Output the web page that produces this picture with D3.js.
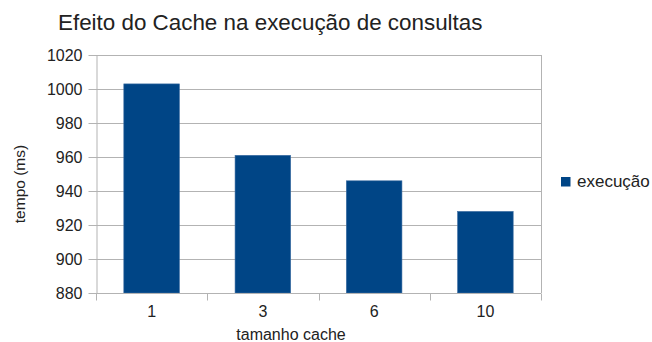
<!DOCTYPE html>
<html><head><meta charset="utf-8">
<script src="https://cdn.jsdelivr.net/npm/d3@7/dist/d3.min.js"></script>
<style>body{margin:0;background:#fff}svg{display:block}text{font-family:"Liberation Sans",Arial,sans-serif;fill:#222}</style>
</head><body>
<script>
const categories = ["1","3","6","10"];
const values = [1003, 961, 946, 928];
const yTicks = [880,900,920,940,960,980,1000,1020];
const seriesName = "execução";
const title = "Efeito do Cache na execução de consultas";
const xTitle = "tamanho cache";
const yTitle = "tempo (ms)";

const W = 652, H = 342;
const m = {left:96, right:111, top:55, bottom:49};
const svg = d3.select("body").append("svg").attr("width", W).attr("height", H);
const x = d3.scaleBand().domain(categories).range([m.left, W - m.right]).paddingInner(0.5).paddingOuter(0.25);
const xb = d3.scaleBand().domain(categories).range([m.left, W - m.right]);
const y = d3.scaleLinear().domain([880, 1020]).range([H - m.bottom, m.top]);
const font = "Liberation Sans, Arial, sans-serif";

// gridlines
svg.append("g").selectAll("line").data(yTicks).join("line")
  .attr("x1", m.left).attr("x2", W - m.right)
  .attr("y1", d => Math.round(y(d)) + 0.5).attr("y2", d => Math.round(y(d)) + 0.5)
  .attr("stroke", "#b3b3b3").attr("stroke-width", 1);
// right border
svg.append("line").attr("x1", W - m.right + 0.5).attr("x2", W - m.right + 0.5)
  .attr("y1", m.top).attr("y2", H - m.bottom).attr("stroke", "#b3b3b3");

// bars
svg.append("g").selectAll("rect").data(values).join("rect")
  .attr("x", (d, i) => x(categories[i]))
  .attr("width", x.bandwidth())
  .attr("y", d => y(d))
  .attr("height", d => y(880) - y(d))
  .attr("fill", "#004586").attr("stroke", "#3f6fa3").attr("stroke-width", 0.6);

// y axis
const ya = svg.append("g").attr("transform", `translate(${m.left + 0.5},0)`)
  .call(d3.axisLeft(y).tickValues(yTicks).tickFormat(d3.format("d")).tickSize(8).tickSizeOuter(0).tickPadding(6));
ya.select(".domain").attr("stroke", "#b3b3b3");
ya.selectAll(".tick line").attr("stroke", "#b3b3b3");
ya.selectAll("text").attr("font-size", 16).attr("fill", "#222").attr("font-family", font);
ya.selectAll(".tick").attr("transform", d => `translate(0,${Math.round(y(d)) + 0.5})`);

// x axis
const xa = svg.append("g").attr("transform", `translate(0,${H - m.bottom + 0.5})`)
  .call(d3.axisBottom(x).tickSize(0).tickPadding(12));
xa.select(".domain").attr("stroke", "#b3b3b3").attr("d", `M${m.left},0H${W - m.right}`);
xa.selectAll("text").attr("font-size", 16).attr("fill", "#222").attr("font-family", font);
const bounds = categories.map(c => xb(c)).concat([W - m.right]);
xa.append("g").selectAll("line").data(bounds).join("line")
  .attr("x1", d => Math.round(d) + 0.5).attr("x2", d => Math.round(d) + 0.5)
  .attr("y1", 0).attr("y2", 7).attr("stroke", "#b3b3b3");

// titles
svg.append("text").attr("x", 58).attr("y", 30).attr("font-size", 22.4).text(title);
svg.append("text").attr("x", 291).attr("y", 340).attr("text-anchor", "middle").attr("font-size", 16).text(xTitle);
svg.append("text").attr("transform", `translate(25,184) rotate(-90)`).attr("text-anchor", "middle").attr("font-size", 15.5).text(yTitle);

// legend
svg.append("rect").attr("x", 561).attr("y", 177).attr("width", 9.5).attr("height", 9.5).attr("fill", "#004586");
svg.append("text").attr("x", 577).attr("y", 186.5).attr("font-size", 17).text(seriesName);
</script>
</body></html>
